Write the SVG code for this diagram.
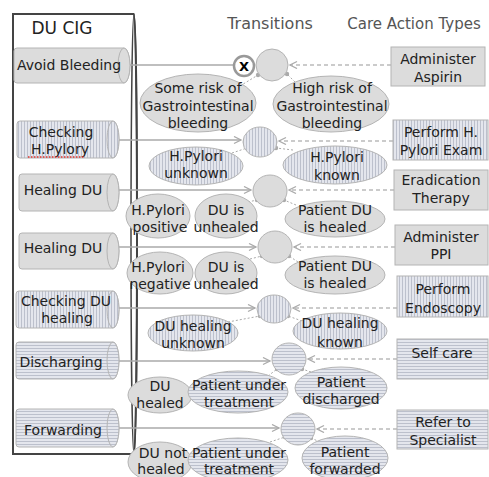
<svg xmlns="http://www.w3.org/2000/svg" width="489" height="477" viewBox="0 0 489 477">
<defs>
<pattern id="vs" width="3" height="3" patternUnits="userSpaceOnUse"><rect width="3" height="3" fill="#e4e6ed"/><rect width="1" height="3" fill="#bcc0cc"/></pattern>
<pattern id="hs" width="3" height="3" patternUnits="userSpaceOnUse"><rect width="3" height="3" fill="#e4e6ed"/><rect width="3" height="1" fill="#bcc0cc"/></pattern>
<marker id="arr" markerWidth="10" markerHeight="10" refX="8" refY="4" orient="auto" markerUnits="userSpaceOnUse"><path d="M1,0.5 L8,4 L1,7.5" fill="none" stroke="#aaa" stroke-width="1.3"/></marker>
<marker id="dot" markerWidth="6" markerHeight="6" refX="3" refY="3" markerUnits="userSpaceOnUse"><circle cx="3" cy="3" r="2.2" fill="#aaa"/></marker>
</defs>
<style>
text{font-family:"DejaVu Sans",Verdana,sans-serif;font-size:14px;fill:#222;text-anchor:middle}
.hd{font-size:16px;fill:#555}
.sol{fill:#dcdcdc;stroke:#b4b4b4;stroke-width:1}
.v{fill:url(#vs);stroke:#b4b4b4;stroke-width:1}
.h{fill:url(#hs);stroke:#b4b4b4;stroke-width:1}
.ln{stroke:#aaa;stroke-width:1.3;fill:none;marker-end:url(#arr)}
.dl{stroke:#bbb;stroke-width:1.3;stroke-dasharray:4 3;fill:none;marker-end:url(#arr)}
.sl{stroke:#aaa;stroke-width:1;stroke-dasharray:2 2;fill:none;marker-end:url(#dot)}
</style>
<rect width="489" height="477" fill="#fff"/>

<g id="container">
<path d="M13,14 H134 A3,220 0 0 1 134,454 H13 Z" fill="#fff" stroke="#444" stroke-width="2"/>
<ellipse cx="134" cy="234" rx="3" ry="220" fill="none" stroke="#444" stroke-width="1.5"/>
<text x="62" y="34" style="font-size:17px">DU CIG</text>
</g>
<text class="hd" x="270" y="29">Transitions</text>
<text class="hd" x="414" y="29" style="font-size:15px">Care Action Types</text>

<g id="connectors">
<line x1="130" y1="65" x2="234" y2="65" stroke="#aaa" stroke-width="1.3"/>
<line class="ln" x1="119" y1="140" x2="241" y2="140"/>
<line class="ln" x1="119" y1="190" x2="251" y2="190"/>
<line class="ln" x1="119" y1="247" x2="256" y2="247"/>
<line class="ln" x1="119" y1="308" x2="255" y2="308"/>
<line class="ln" x1="119" y1="361" x2="270" y2="361"/>
<line class="ln" x1="119" y1="428" x2="279" y2="428"/>
<line class="dl" x1="391" y1="65" x2="290" y2="65"/>
<line class="dl" x1="393" y1="141" x2="279" y2="141"/>
<line class="dl" x1="394" y1="190" x2="289" y2="190"/>
<line class="dl" x1="395" y1="247" x2="294" y2="247"/>
<line class="dl" x1="397" y1="308" x2="293" y2="308"/>
<line class="dl" x1="397" y1="359" x2="308" y2="359"/>
<line class="dl" x1="397" y1="429" x2="317" y2="429"/>
<line class="sl" x1="240" y1="86" x2="258" y2="75"/>
<line class="sl" x1="295" y1="82" x2="287" y2="74"/>
<line class="sl" x1="232" y1="153" x2="247" y2="148"/>
<line class="sl" x1="293" y1="150" x2="276" y2="148"/>
<line class="sl" x1="248" y1="202" x2="257" y2="200"/>
<line class="sl" x1="296" y1="205" x2="284" y2="200"/>
<line class="sl" x1="250" y1="259" x2="262" y2="256"/>
<line class="sl" x1="298" y1="262" x2="289" y2="256"/>
<line class="sl" x1="228" y1="322" x2="260" y2="316"/>
<line class="sl" x1="302" y1="321" x2="288" y2="316"/>
<line class="sl" x1="268" y1="376" x2="277" y2="369"/>
<line class="sl" x1="311" y1="372" x2="302" y2="369"/>
<line class="sl" x1="270" y1="442" x2="285" y2="437"/>
<line class="sl" x1="320" y1="442" x2="311" y2="438"/>
</g>

<g id="cig1"><path class="sol" d="M17,48 H124 A6,17.5 0 0 1 124,83 H17 Q14,83 14,80 V51 Q14,48 17,48 Z"/><ellipse class="sol" cx="124" cy="65.5" rx="6" ry="17.5"/><text x="69" y="70">Avoid Bleeding</text></g>
<g id="cig2"><path class="v" d="M20,121 H113 A6,18.5 0 0 1 113,158 H20 Q17,158 17,155 V124 Q17,121 20,121 Z"/><ellipse class="v" cx="113" cy="139.5" rx="6" ry="18.5"/><text x="61" y="137">Checking</text><text x="60" y="154">H.Pylory</text><line x1="28" y1="157" x2="84" y2="157" stroke="#e0302a" stroke-width="1.5" stroke-dasharray="1.5 1.5"/></g>
<g id="cig3"><path class="sol" d="M22,174 H113 A6,18.5 0 0 1 113,211 H22 Q19,211 19,208 V177 Q19,174 22,174 Z"/><ellipse class="sol" cx="113" cy="192.5" rx="6" ry="18.5"/><text x="63" y="195">Healing DU</text></g>
<g id="cig4"><path class="sol" d="M22,233 H113 A6,18 0 0 1 113,269 H22 Q19,269 19,266 V236 Q19,233 22,233 Z"/><ellipse class="sol" cx="113" cy="251" rx="6" ry="18"/><text x="63" y="253">Healing DU</text></g>
<g id="cig5"><path class="v" d="M19,291 H113 A6,18.5 0 0 1 113,328 H19 Q16,328 16,325 V294 Q16,291 19,291 Z"/><ellipse class="v" cx="113" cy="309.5" rx="6" ry="18.5"/><text x="66" y="306">Checking DU</text><text x="67" y="323">healing</text></g>
<g id="cig6"><path class="h" d="M19,342 H113 A6,18.5 0 0 1 113,379 H19 Q16,379 16,376 V345 Q16,342 19,342 Z"/><ellipse class="h" cx="113" cy="360.5" rx="6" ry="18.5"/><text x="61" y="367">Discharging</text></g>
<g id="cig7"><path class="h" d="M19,409 H113 A6,19 0 0 1 113,447 H19 Q16,447 16,444 V412 Q16,409 19,409 Z"/><ellipse class="h" cx="113" cy="428" rx="6" ry="19"/><text x="63" y="435">Forwarding</text></g>

<g id="t1"><ellipse class="sol" cx="272" cy="65" rx="16" ry="16"/><circle cx="244" cy="66" r="10" fill="#fff" stroke="#999" stroke-width="2.5"/><text x="244" y="71" style="font-size:13px;font-weight:bold;fill:#000">X</text></g>
<g id="t2"><ellipse class="v" cx="260" cy="142" rx="17" ry="15"/></g>
<g id="t3"><ellipse class="sol" cx="270" cy="191" rx="17" ry="16"/></g>
<g id="t4"><ellipse class="sol" cx="275" cy="247" rx="17" ry="16"/></g>
<g id="t5"><ellipse class="v" cx="274" cy="309" rx="17" ry="14"/></g>
<g id="t6"><ellipse class="h" cx="289" cy="359" rx="17" ry="16"/></g>
<g id="t7"><ellipse class="h" cx="298" cy="429" rx="17" ry="16"/></g>

<g id="s1a"><ellipse class="sol" cx="198" cy="103" rx="58" ry="29"/><text x="198" y="93">Some risk of</text><text x="198" y="111">Gastrointestinal</text><text x="198" y="128">bleeding</text></g>
<g id="s1b"><ellipse class="sol" cx="331" cy="104" rx="58" ry="28"/><text x="332" y="93">High risk of</text><text x="332" y="111">Gastrointestinal</text><text x="332" y="128">bleeding</text></g>
<g id="s2a"><ellipse class="v" cx="196" cy="166" rx="47" ry="19"/><text x="196" y="161">H.Pylori</text><text x="196" y="178">unknown</text></g>
<g id="s2b"><ellipse class="v" cx="335" cy="165" rx="52" ry="19"/><text x="337" y="162">H.Pylori</text><text x="337" y="180">known</text></g>
<g id="s3a"><ellipse class="sol" cx="158" cy="216" rx="32" ry="22"/><text x="158" y="215">H.Pylori</text><text x="160" y="232">positive</text></g>
<g id="s3b"><ellipse class="sol" cx="226" cy="216" rx="31" ry="22"/><text x="226" y="215">DU is</text><text x="226" y="232">unhealed</text></g>
<g id="s3c"><ellipse class="sol" cx="335" cy="219" rx="50" ry="18"/><text x="335" y="215">Patient DU</text><text x="335" y="232">is healed</text></g>
<g id="s4a"><ellipse class="sol" cx="160" cy="273" rx="33" ry="21"/><text x="158" y="272">H.Pylori</text><text x="160" y="289">negative</text></g>
<g id="s4b"><ellipse class="sol" cx="226" cy="273" rx="31" ry="21"/><text x="226" y="272">DU is</text><text x="226" y="289">unhealed</text></g>
<g id="s4c"><ellipse class="sol" cx="335" cy="275" rx="50" ry="19"/><text x="335" y="271">Patient DU</text><text x="335" y="288">is healed</text></g>
<g id="s5a"><ellipse class="v" cx="193" cy="333" rx="45" ry="18"/><text x="193" y="331">DU healing</text><text x="193" y="348">unknown</text></g>
<g id="s5b"><ellipse class="v" cx="340" cy="331" rx="47" ry="18"/><text x="340" y="328">DU healing</text><text x="340" y="347">known</text></g>
<g id="s6a"><ellipse class="sol" cx="160" cy="395" rx="32" ry="18"/><text x="160" y="391">DU</text><text x="160" y="408">healed</text></g>
<g id="s6b"><ellipse class="h" cx="238" cy="392" rx="50" ry="21"/><text x="239" y="390">Patient under</text><text x="239" y="407">treatment</text></g>
<g id="s6c"><ellipse class="h" cx="341" cy="388" rx="46" ry="21"/><text x="341" y="387">Patient</text><text x="341" y="404">discharged</text></g>
<g id="s7a"><ellipse class="sol" cx="160" cy="462" rx="32" ry="20"/><text x="163" y="458">DU not</text><text x="161" y="474">healed</text></g>
<g id="s7b"><ellipse class="h" cx="238" cy="460" rx="50" ry="22"/><text x="239" y="458">Patient under</text><text x="239" y="474">treatment</text></g>
<g id="s7c"><ellipse class="h" cx="345" cy="458" rx="43" ry="22"/><text x="345" y="457">Patient</text><text x="345" y="474">forwarded</text></g>

<g id="a1"><rect class="sol" x="391" y="47" width="94" height="39"/><text x="438" y="64">Administer</text><text x="438" y="82">Aspirin</text></g>
<g id="a2"><rect class="v" x="393" y="120" width="95" height="40"/><text x="441" y="137">Perform H.</text><text x="441" y="155">Pylori Exam</text></g>
<g id="a3"><rect class="sol" x="394" y="170" width="94" height="40"/><text x="441" y="185">Eradication</text><text x="441" y="203">Therapy</text></g>
<g id="a4"><rect class="sol" x="395" y="225" width="93" height="40"/><text x="441" y="242">Administer</text><text x="441" y="259">PPI</text></g>
<g id="a5"><rect class="v" x="397" y="276" width="91" height="41"/><text x="443" y="294">Perform</text><text x="443" y="313">Endoscopy</text></g>
<g id="a6"><rect class="h" x="397" y="339" width="91" height="40"/><text x="442" y="358">Self care</text></g>
<g id="a7"><rect class="h" x="397" y="410" width="91" height="39"/><text x="443" y="427">Refer to</text><text x="443" y="445">Specialist</text></g>
</svg>
